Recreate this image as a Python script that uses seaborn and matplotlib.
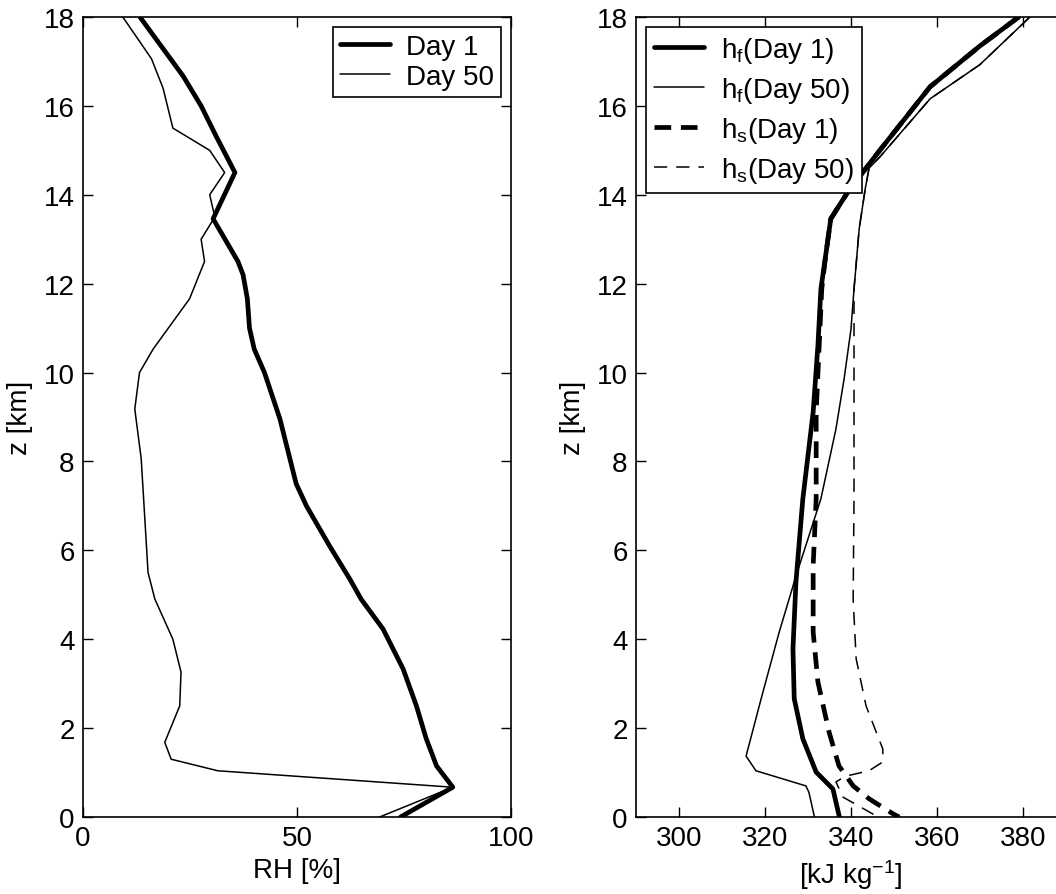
import matplotlib
matplotlib.use("Agg")
import matplotlib.pyplot as plt
import seaborn as sns

# ---- Relative humidity profiles (height in km, RH in %) ----
z_rh_day1 = [18.0, 16.67, 16.0, 15.32, 14.5, 13.46, 12.5, 12.2, 11.66, 11.0, 10.53, 10.0,
             8.96, 7.5, 7.0, 6.1, 5.36, 4.9, 4.23, 3.33, 2.5, 1.76, 1.15, 0.67, 0.0]
rh_day1 = [13.3, 23.4, 27.6, 31.1, 35.5, 30.4, 36.2, 37.4, 38.4, 38.9, 40.0, 42.4,
           46.0, 49.8, 52.2, 57.6, 62.3, 65.0, 70.1, 74.8, 77.9, 80.2, 82.6, 86.4, 74.2]

z_rh_day50 = [18.0, 17.06, 16.4, 15.5, 15.0, 14.5, 14.0, 13.5, 13.0, 12.5, 11.66,
              10.53, 10.0, 9.18, 8.06, 6.78, 5.5, 4.9, 4.0, 3.26, 2.5, 1.68, 1.3,
              1.04, 0.67, 0.0]
rh_day50 = [9.3, 16.0, 18.7, 21.0, 29.6, 33.1, 29.6, 30.8, 27.6, 28.4, 24.9,
            16.4, 13.2, 12.1, 13.6, 14.4, 15.2, 16.8, 21.0, 22.9, 22.6, 19.1, 20.6,
            31.5, 86.4, 69.3]

# ---- Frozen (h_f) and saturation (h_s) moist static energy, kJ/kg ----
z_hf_day1 = [18.0, 17.35, 16.43, 15.0, 14.65, 14.1, 13.46, 12.7, 11.88, 10.6, 9.11,
             7.16, 5.29, 3.78, 2.66, 1.76, 1.01, 0.63, 0.0]
hf_day1 = [379.0, 370.0, 358.4, 346.7, 343.9, 339.5, 335.3, 334.2, 333.0, 332.3, 331.2,
           328.8, 327.2, 326.5, 326.8, 328.8, 331.9, 335.8, 337.3]

z_hf_day50 = [18.0, 16.93, 16.16, 14.85, 14.6, 14.13, 13.23, 11.88, 10.98, 9.86, 8.73,
              7.16, 5.42, 4.16, 2.66, 1.37, 1.04, 0.70, 0.56, 0.0]
hf_day50 = [381.6, 370.0, 358.4, 346.7, 344.2, 343.3, 341.9, 340.7, 340.0, 338.4, 336.5,
            333.0, 327.2, 323.3, 319.1, 315.6, 317.9, 329.5, 330.2, 331.5]

z_hs_day1 = [18.0, 17.35, 16.43, 15.0, 14.65, 14.1, 13.46, 12.7, 11.88, 10.6, 9.11,
             7.16, 5.65, 4.16, 3.04, 1.91, 1.15, 0.70, 0.41, 0.07, 0.0]
hs_day1 = [379.0, 370.0, 358.4, 346.7, 343.9, 339.5, 335.3, 334.2, 333.2, 332.6, 331.9,
           331.9, 331.2, 331.2, 332.3, 334.9, 337.2, 340.5, 344.2, 349.8, 351.2]

z_hs_day50 = [18.0, 16.93, 16.16, 14.85, 14.6, 14.13, 13.23, 11.88, 11.6, 10.0, 7.16,
              4.9, 3.56, 2.5, 1.53, 1.24, 1.04, 0.92, 0.79, 0.45, 0.0]
hs_day50 = [381.6, 370.0, 358.4, 346.7, 344.2, 343.3, 341.9, 340.7, 340.7, 340.7, 340.7,
            340.5, 341.2, 343.5, 347.4, 347.4, 344.2, 338.8, 336.5, 338.1, 346.3]

rh_ticks = [0, 50, 100]
mse_ticks = [300, 320, 340, 360, 380]
z_ticks = list(range(0, 19, 2))

sns.set_style("ticks")
plt.rcParams["font.family"] = ["Liberation Sans", "DejaVu Sans"]
plt.rcParams["mathtext.fontset"] = "custom"
plt.rcParams["mathtext.rm"] = "Liberation Sans"
plt.rcParams["mathtext.it"] = "Liberation Sans"
plt.rcParams["lines.scale_dashes"] = False
plt.rcParams["text.color"] = "black"
plt.rcParams["axes.labelcolor"] = "black"
plt.rcParams["xtick.color"] = "black"
plt.rcParams["ytick.color"] = "black"

FS = 20
W, H = 1056, 895
fig = plt.figure(figsize=(W / 100, H / 100), dpi=100)
ax1 = fig.add_axes([83 / W, 77 / H, 428 / W, 800 / H])
ax2 = fig.add_axes([636 / W, 77 / H, 430 / W, 800 / H])

THICK, THIN = 3.4, 1.1

sns.lineplot(x=rh_day1, y=z_rh_day1, sort=False, estimator=None, ax=ax1,
             color="black", lw=THICK, label="Day 1")
sns.lineplot(x=rh_day50, y=z_rh_day50, sort=False, estimator=None, ax=ax1,
             color="black", lw=THIN, label="Day 50")

sns.lineplot(x=hs_day1, y=z_hs_day1, sort=False, estimator=None, ax=ax2,
             color="black", lw=THICK, label="_hs1")
sns.lineplot(x=hs_day50, y=z_hs_day50, sort=False, estimator=None, ax=ax2,
             color="black", lw=THIN, label="_hs50")
sns.lineplot(x=hf_day1, y=z_hf_day1, sort=False, estimator=None, ax=ax2,
             color="black", lw=THICK, label="_hf1")
sns.lineplot(x=hf_day50, y=z_hf_day50, sort=False, estimator=None, ax=ax2,
             color="black", lw=THIN, label="_hf50")

lines = ax2.get_lines()
lines[0].set_linestyle((0, (12, 7)))
lines[1].set_linestyle((0, (9.5, 6.5)))
lines[0].set_label(r"$\mathregular{h_s}$(Day 1)")
lines[1].set_label(r"$\mathregular{h_s}$(Day 50)")
lines[2].set_label(r"$\mathregular{h_f}$(Day 1)")
lines[3].set_label(r"$\mathregular{h_f}$(Day 50)")

for ax in (ax1, ax2):
    ax.set_ylim(0, 18)
    ax.set_yticks(z_ticks)
    ax.tick_params(direction="in", length=7, width=1, top=True, right=True,
                   labelsize=FS, pad=6, colors="black")
    for sp in ax.spines.values():
        sp.set_visible(True)
        sp.set_color("black")
        sp.set_linewidth(1.2)
    ax.set_ylabel("z [km]", fontsize=FS, labelpad=8, color="black")

ax1.set_xlim(0, 100)
ax1.set_xticks(rh_ticks)
ax1.set_xlabel("RH [%]", fontsize=FS, labelpad=4, color="black")

ax2.set_xlim(290, 390)
ax2.set_xticks(mse_ticks)
ax2.set_xlabel(r"[kJ kg$^{-1}$]", fontsize=FS, labelpad=4, color="black")

leg1 = ax1.legend(loc="upper right", fontsize=FS, frameon=True, fancybox=False,
                  edgecolor="black", framealpha=1, borderaxespad=0.35,
                  handlelength=1.8, handletextpad=0.6, labelspacing=0.15,
                  borderpad=0.25)
leg1.get_frame().set_linewidth(1.2)

h = ax2.get_lines()
leg2 = ax2.legend(handles=[h[2], h[3], h[0], h[1]], loc="upper left", fontsize=FS,
                  frameon=True, fancybox=False, edgecolor="black", framealpha=1,
                  borderaxespad=0.35, handlelength=1.8, handletextpad=0.6,
                  labelspacing=0.36, borderpad=0.3)
leg2.get_frame().set_linewidth(1.2)
for leg in (leg1, leg2):
    for t in leg.get_texts():
        t.set_color("black")

fig.savefig("out.png", dpi=100, facecolor="white")
